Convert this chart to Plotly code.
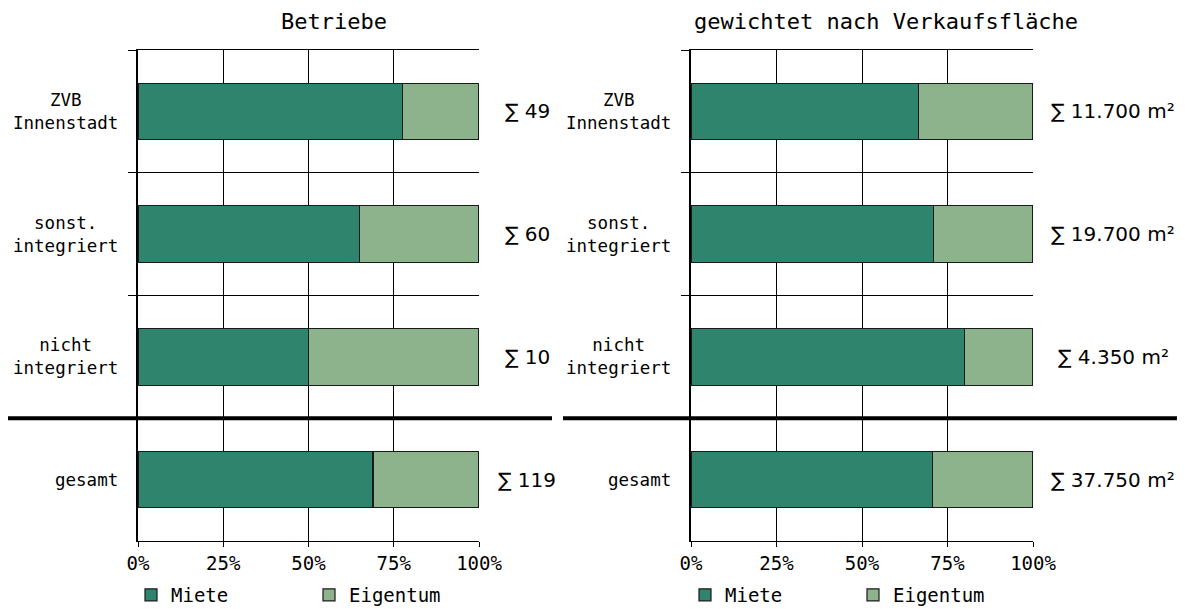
import plotly.graph_objects as go

# ---------------- data ----------------
categories = ["ZVB<br>Innenstadt", "sonst.<br>integriert", "nicht<br>integriert", "gesamt"]
cat_keys = ["ZVB", "sonst", "nicht", "gesamt"]

betriebe_miete = [77.6, 65.0, 50.0, 68.9]
betriebe_eigentum = [22.4, 35.0, 50.0, 31.1]
betriebe_sum = ["49", "60", "10", "119"]

flaeche_miete = [66.5, 71.0, 80.0, 70.6]
flaeche_eigentum = [33.5, 29.0, 20.0, 29.4]
flaeche_sum = ["11.700 m²", "19.700 m²", "4.350 m²", "37.750 m²"]

x_ticks = [0, 25, 50, 75, 100]
x_ticktext = ["0%", "25%", "50%", "75%", "100%"]
titles = ["Betriebe", "gewichtet nach Verkaufsfläche"]
series_names = ["Miete", "Eigentum"]

# ---------------- style ----------------
OFF = 8                      # page body margin of the browser
W, H = 1185 - OFF, 609 - OFF
C_MIETE = "#2F846E"
C_EIG = "#8DB38D"
MONO = "DejaVu Sans Mono"
SUMFONT = "DejaVu Sans"

def px(x):
    return (x - OFF) / W

def py(y):
    return 1 - (y - OFF) / H

fig = go.Figure()

panels = [
    dict(x="x", y="y", miete=betriebe_miete, eig=betriebe_eigentum, sums=betriebe_sum,
         legend="legend", dom=[px(138), px(479)]),
    dict(x="x2", y="y2", miete=flaeche_miete, eig=flaeche_eigentum, sums=flaeche_sum,
         legend="legend2", dom=[px(691), px(1033)]),
]

for p in panels:
    for name, vals, col in [(series_names[0], p["miete"], C_MIETE), (series_names[1], p["eig"], C_EIG)]:
        fig.add_trace(go.Bar(
            y=cat_keys, x=vals, name=name, orientation="h",
            xaxis=p["x"], yaxis=p["y"], legend=p["legend"],
            marker=dict(color=col, line=dict(color="#1a1a1a", width=1.2)),
            width=0.46,
        ))

ydom = [py(541), py(50)]
axis_common_x = dict(
    range=[0, 100], tickmode="array", tickvals=x_ticks, ticktext=x_ticktext,
    ticks="outside", ticklen=5, tickcolor="black",
    showgrid=True, gridcolor="black", gridwidth=1, zeroline=False,
    showline=True, mirror=True, linecolor="black", linewidth=1,
    tickfont=dict(family=MONO, size=19, color="black"),
    fixedrange=True, automargin=False,
)
axis_common_y = dict(
    type="category", categoryorder="array", categoryarray=cat_keys,
    range=[3.5, -0.5], tickson="boundaries",
    ticks="outside", ticklen=8, tickcolor="black",
    showticklabels=False, showgrid=True, gridcolor="black", gridwidth=1,
    showline=True, linecolor="black", linewidth=2, zeroline=False,
    domain=ydom, fixedrange=True, automargin=False,
)

legend_common = dict(orientation="h", xanchor="left", yanchor="middle",
                     font=dict(family=MONO, size=19, color="black"),
                     entrywidthmode="pixels", itemwidth=30,
                     bgcolor="rgba(0,0,0,0)", traceorder="normal")

fig.update_layout(
    width=W, height=H,
    margin=dict(l=0, r=0, t=0, b=0, autoexpand=False),
    paper_bgcolor="white", plot_bgcolor="white",
    barmode="stack",
    xaxis=dict(domain=panels[0]["dom"], anchor="y", **axis_common_x),
    yaxis=dict(anchor="x", **axis_common_y),
    xaxis2=dict(domain=panels[1]["dom"], anchor="y2", **axis_common_x),
    yaxis2=dict(anchor="x2", **axis_common_y),
    legend=dict(x=px(131), y=py(595), entrywidth=133, **legend_common),
    legend2=dict(x=px(685), y=py(595), entrywidth=123, **legend_common),
    showlegend=True,
)

annotations = []
# titles
for t, xc in zip(titles, [334, 886]):
    annotations.append(dict(text=t, x=px(xc), y=py(22), xref="paper", yref="paper",
                            xanchor="center", yanchor="middle", showarrow=False,
                            font=dict(family=MONO, size=22, color="black")))
# category labels
for p, xr in zip(panels, [120, 673]):
    for key, lab in zip(cat_keys, categories):
        annotations.append(dict(text=lab, x=px(xr), y=key, xref="paper", yref=p["y"],
                                xanchor="right", yanchor="middle", align="center",
                                showarrow=False,
                                font=dict(family=MONO, size=17.5, color="black")))
# sum labels
for p, xc in zip(panels, [527, 1113]):
    for key, s in zip(cat_keys, p["sums"]):
        annotations.append(dict(text="∑ " + s, x=px(xc), y=key, xref="paper", yref=p["y"],
                                xanchor="center", yanchor="middle", showarrow=False,
                                font=dict(family=SUMFONT, size=20, color="black")))
fig.update_layout(annotations=annotations)

# thick separators before "gesamt"
fig.add_shape(type="line", xref="paper", yref="y", x0=px(8), x1=px(552), y0=2.5, y1=2.5,
              line=dict(color="black", width=4), layer="above")
fig.add_shape(type="line", xref="paper", yref="y2", x0=px(563), x1=1.0, y0=2.5, y1=2.5,
              line=dict(color="black", width=4), layer="above")

fig.write_html("out.html")
